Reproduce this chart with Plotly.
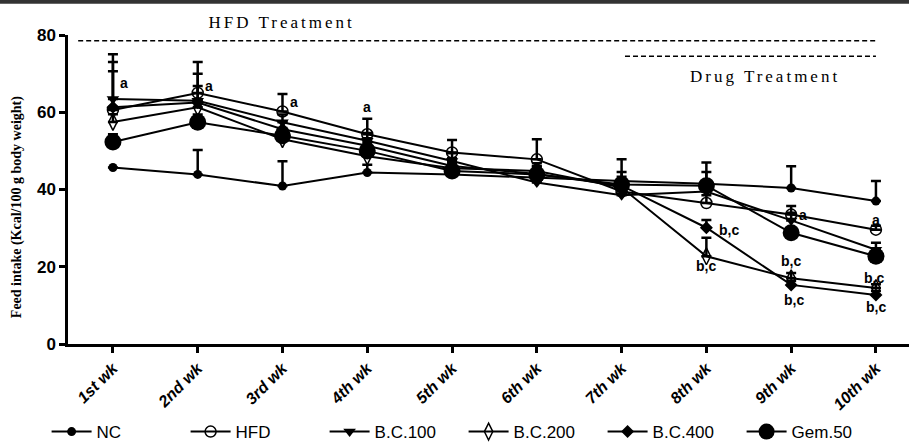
import plotly.graph_objects as go

weeks = ["1st wk", "2nd wk", "3rd wk", "4th wk", "5th wk", "6th wk", "7th wk", "8th wk", "9th wk", "10th wk"]

nc     = [45.7, 43.9, 40.9, 44.4, 43.9, 43.0, 42.2, 41.5, 40.4, 37.0]
hfd    = [60.6, 65.0, 60.2, 54.3, 49.6, 47.8, 39.5, 36.5, 33.5, 29.6]
bc100  = [63.4, 63.0, 57.4, 52.6, 47.4, 41.8, 38.5, 39.5, 32.0, 24.4]
bc200  = [57.5, 61.3, 53.0, 48.6, 45.5, 44.8, 40.5, 22.7, 17.0, 14.5]
bc400  = [61.3, 62.5, 55.6, 51.3, 46.1, 44.0, 41.0, 30.1, 15.3, 12.7]
gem50  = [52.3, 57.4, 53.9, 50.0, 44.8, 43.9, 41.3, 41.0, 28.8, 22.7]

nc_err    = [0.0, 6.3, 6.4, 2.0, 2.0, 2.0, 5.6, 3.0, 5.6, 5.2]
hfd_err   = [12.4, 8.0, 4.5, 4.0, 3.2, 5.2, 2.0, 2.0, 2.2, 1.0]
bc100_err = [11.6, 7.0, 2.0, 2.0, 2.0, 2.0, 2.0, 2.0, 2.0, 1.8]
bc200_err = [2.0, 2.0, 2.0, 2.0, 2.0, 2.0, 2.0, 4.8, 1.4, 1.0]
bc400_err = [9.3, 4.3, 2.0, 2.0, 2.0, 2.0, 3.5, 2.0, 1.0, 1.0]
gem50_err = [2.0, 2.0, 2.0, 2.0, 2.0, 2.0, 2.0, 6.0, 1.0, 1.0]

# significance letters
sig_x = [0.13, 1.13, 2.13, 3.0, 7.27, 7.0, 8.14, 8.0, 8.03, 9.0, 8.98, 9.0]
sig_y = [67.7, 66.8, 62.7, 61.3, 29.6, 20.1, 33.5, 21.4, 11.4, 32.2, 17.1, 9.7]
sig_t = ["a", "a", "a", "a", "b,c", "b,c", "a", "b,c", "b,c", "a", "b,c", "b,c"]

series = [
    ("NC", nc, nc_err, dict(symbol="circle", size=9, color="black")),
    ("HFD", hfd, hfd_err, dict(symbol="circle-open", size=11, color="black", line=dict(color="black", width=1.5))),
    ("B.C.100", bc100, bc100_err, dict(symbol="triangle-down", size=11, color="black")),
    ("B.C.200", bc200, bc200_err, dict(symbol="diamond-tall-open", size=12, color="black", line=dict(color="black", width=1.5))),
    ("B.C.400", bc400, bc400_err, dict(symbol="diamond", size=10, color="black")),
    ("Gem.50", gem50, gem50_err, dict(symbol="circle", size=17, color="black")),
]

fig = go.Figure()
for name, vals, err, mk in series:
    fig.add_trace(go.Scatter(
        x=weeks, y=vals, name=name, mode="lines+markers",
        line=dict(color="black", width=2),
        marker=mk,
        error_y=dict(type="data", symmetric=False, array=err, arrayminus=[0] * len(err),
                     color="black", thickness=2.5, width=5),
    ))

for xs, ys, t in zip(sig_x, sig_y, sig_t):
    fig.add_annotation(x=xs, y=ys, text=t, showarrow=False, xanchor="center", yanchor="middle",
                       font=dict(family="Liberation Sans", size=14, color="black", weight="bold"))

# treatment period lines
fig.add_shape(type="line", x0=-0.41, x1=9.0, y0=78.5, y1=78.5,
              line=dict(color="black", width=1.5, dash="5px,3px"))
fig.add_shape(type="line", x0=6.04, x1=9.0, y0=74.5, y1=74.5,
              line=dict(color="black", width=1.5, dash="5px,3px"))
fig.add_annotation(xref="paper", yref="paper", x=0.254, y=1.039, xanchor="center", yanchor="middle",
                   text="HFD Treatment", showarrow=False,
                   font=dict(family="Liberation Serif", size=17, color="black"))
fig.add_annotation(xref="paper", yref="paper", x=0.829, y=0.867, xanchor="center", yanchor="middle",
                   text="Drug Treatment", showarrow=False,
                   font=dict(family="Liberation Serif", size=17, color="black"))

# y axis title
fig.add_annotation(xref="paper", yref="paper", x=-0.0606, y=0.443, xanchor="center", yanchor="middle",
                   textangle=-90, text="Feed intake (Kcal/100 g body weight)", showarrow=False,
                   font=dict(family="Liberation Serif", size=14, color="black", weight="bold"))

# top border
fig.add_shape(type="line", xref="paper", yref="paper", x0=-0.1, x1=1.0, y0=1.108, y1=1.108,
              line=dict(color="#333333", width=4))

fig.update_layout(
    width=909, height=442,
    margin=dict(l=68, r=0, t=35, b=98, autoexpand=False),
    plot_bgcolor="white", paper_bgcolor="white",
    showlegend=True,
    legend=dict(orientation="h", xref="container", x=0.51, xanchor="center", y=-0.285, yanchor="middle",
                font=dict(family="Liberation Sans", size=17, color="black"),
                itemwidth=40, entrywidth=84, entrywidthmode="pixels", bgcolor="rgba(0,0,0,0)"),
    font=dict(family="Liberation Sans", color="black"),
)
fig.update_xaxes(range=[-0.53, 9.39], showline=True, linecolor="black", linewidth=2.5,
                 ticks="outside", ticklen=6, tickwidth=2.5, tickcolor="black",
                 tickangle=-45, showgrid=False, zeroline=False,
                 tickfont=dict(family="Liberation Sans", size=16, color="black", weight="bold", style="italic"))
fig.update_yaxes(range=[0, 80], tickvals=[0, 20, 40, 60, 80], showline=True, linecolor="black", linewidth=2.5,
                 ticks="outside", ticklen=6, tickwidth=2.5, tickcolor="black",
                 showgrid=False, zeroline=False,
                 tickfont=dict(family="Liberation Sans", size=17, color="black", weight="bold"))

post = """
document.body.style.margin = '0';
document.querySelectorAll('.annotation-text').forEach(function(t){
  if (t.textContent.indexOf('Treatment') >= 0) { t.style.letterSpacing = '3px'; }
});
"""
fig.write_html("out.html", post_script=post, config={"displayModeBar": False})
